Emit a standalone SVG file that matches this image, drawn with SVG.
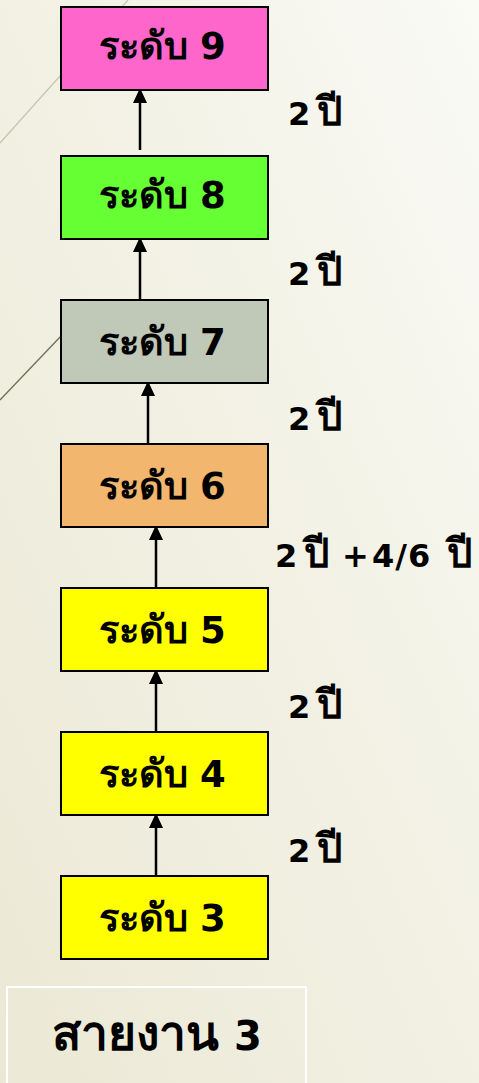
<svg xmlns="http://www.w3.org/2000/svg" width="479" height="1083" viewBox="0 0 479 1083">
<defs>
<linearGradient id="bg" x1="0" y1="1" x2="1" y2="0">
<stop offset="0" stop-color="#ebe8d5"/>
<stop offset="0.6" stop-color="#f3f2e6"/>
<stop offset="1" stop-color="#fafaf6"/>
</linearGradient>
<style>
.box{stroke:#000;stroke-width:2}
.lbl{font-family:"DejaVu Sans","Noto Sans",sans-serif;font-weight:bold;fill:#000}
.th{font-size:38px}
.dg{font-size:37px}
.yr{font-family:"DejaVu Sans","Noto Sans",sans-serif;font-weight:bold;fill:#000}
.yth{font-size:40px}
.ydg{font-size:32px}
.conn{stroke:#000;stroke-width:2.5;fill:none}
</style>
</defs>
<rect width="479" height="1083" fill="url(#bg)"/>
<line x1="0" y1="143" x2="128" y2="0" stroke="#c4c4b0" stroke-width="1.2"/>
<line x1="0" y1="400" x2="62" y2="335" stroke="#6c7058" stroke-width="1.3"/>

<g id="connectors">
<line class="conn" x1="140" y1="150" x2="140" y2="88"/>
<path d="M133,103 L140,88 L147,103 Z"/>
<line class="conn" x1="140" y1="300" x2="140" y2="237"/>
<path d="M133,252 L140,237 L147,252 Z"/>
<line class="conn" x1="148" y1="444" x2="148" y2="381"/>
<path d="M141,396 L148,381 L155,396 Z"/>
<line class="conn" x1="156" y1="588" x2="156" y2="525"/>
<path d="M149,540 L156,525 L163,540 Z"/>
<line class="conn" x1="156" y1="732" x2="156" y2="669"/>
<path d="M149,684 L156,669 L163,684 Z"/>
<line class="conn" x1="156" y1="876" x2="156" y2="813"/>
<path d="M149,828 L156,813 L163,828 Z"/>
</g>

<g id="n9"><rect class="box" x="61" y="7" width="207" height="83" fill="#ff66cc"/><text class="lbl" y="59"><tspan class="th" x="99">ระดับ</tspan><tspan class="dg" x="200">9</tspan></text></g>
<g id="n8"><rect class="box" x="61" y="156" width="207" height="83" fill="#66ff33"/><text class="lbl" y="208"><tspan class="th" x="99">ระดับ</tspan><tspan class="dg" x="200">8</tspan></text></g>
<g id="n7"><rect class="box" x="61" y="300" width="207" height="83" fill="#c0c8b8"/><text class="lbl" y="355"><tspan class="th" x="99">ระดับ</tspan><tspan class="dg" x="200">7</tspan></text></g>
<g id="n6"><rect class="box" x="61" y="444" width="207" height="83" fill="#f2b66e"/><text class="lbl" y="499"><tspan class="th" x="99">ระดับ</tspan><tspan class="dg" x="200">6</tspan></text></g>
<g id="n5"><rect class="box" x="61" y="588" width="207" height="83" fill="#ffff00"/><text class="lbl" y="643"><tspan class="th" x="99">ระดับ</tspan><tspan class="dg" x="200">5</tspan></text></g>
<g id="n4"><rect class="box" x="61" y="732" width="207" height="83" fill="#ffff00"/><text class="lbl" y="787"><tspan class="th" x="99">ระดับ</tspan><tspan class="dg" x="200">4</tspan></text></g>
<g id="n3"><rect class="box" x="61" y="876" width="207" height="83" fill="#ffff00"/><text class="lbl" y="931"><tspan class="th" x="99">ระดับ</tspan><tspan class="dg" x="200">3</tspan></text></g>

<g id="labels">
<text class="yr" y="125"><tspan class="ydg" x="288">2</tspan><tspan class="yth" x="317">ปี</tspan></text>
<text class="yr" y="285"><tspan class="ydg" x="288">2</tspan><tspan class="yth" x="317">ปี</tspan></text>
<text class="yr" y="430"><tspan class="ydg" x="288">2</tspan><tspan class="yth" x="317">ปี</tspan></text>
<text class="yr" y="567"><tspan class="ydg" x="275">2</tspan><tspan class="yth" x="304">ปี</tspan><tspan class="ydg" x="342" font-size="26px">+</tspan><tspan class="ydg" x="372" letter-spacing="1">4/6</tspan><tspan class="yth" x="447">ปี</tspan></text>
<text class="yr" y="718"><tspan class="ydg" x="288">2</tspan><tspan class="yth" x="317">ปี</tspan></text>
<text class="yr" y="862"><tspan class="ydg" x="288">2</tspan><tspan class="yth" x="317">ปี</tspan></text>
</g>

<g id="title">
<rect x="7" y="987" width="299" height="110" fill="none" stroke="#ffffff" stroke-width="2"/>
<text y="1050" font-family="DejaVu Sans, Noto Sans, sans-serif" font-weight="bold" fill="#000"><tspan x="52" font-size="48">สายงาน</tspan><tspan x="234" font-size="40">3</tspan></text>
</g>
</svg>
